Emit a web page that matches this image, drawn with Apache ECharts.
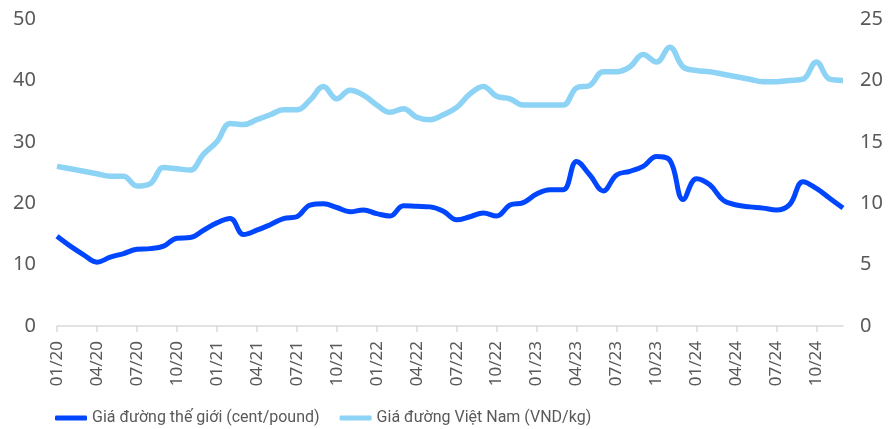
<!DOCTYPE html>
<html>
<head>
<meta charset="utf-8">
<script src="https://cdn.jsdelivr.net/npm/echarts@6/dist/echarts.min.js"></script>
<style>
  html, body { margin: 0; padding: 0; background: #fff; }
  #chart { width: 891px; height: 429px; }
</style>
</head>
<body>
<div id="chart"></div>
<script>
// tháng 01/20 -> 12/24
var months = []
for (var y = 20; y <= 24; y++) {
  for (var m = 1; m <= 12; m++) {
    months.push((m < 10 ? '0' + m : '' + m) + '/' + y)
  }
}

// giá đường thế giới (cent/pound) - trục trái
var worldPrice = [
  14.6, 13.0, 11.6, 10.4, 11.2, 11.8, 12.5, 12.6, 13.0, 14.3, 14.4, 15.6,
  16.8, 17.5, 14.9, 15.6, 16.5, 17.5, 17.8, 19.7, 19.9, 19.3, 18.6, 18.9,
  18.3, 17.9, 19.6, 19.5, 19.4, 18.7, 17.3, 17.8, 18.4, 17.9, 19.7, 20.1,
  21.5, 22.2, 22.2, 26.8, 24.6, 22.0, 24.6, 25.2, 26.0, 27.6, 27.0, 20.6,
  24.0, 23.0, 20.5, 19.7, 19.4, 19.2, 18.9, 19.8, 23.5, 22.4, 20.8, 19.2
]

// giá đường Việt Nam (nghìn VND/kg) - trục phải
var vnPrice = [
  13.0, 12.8, 12.6, 12.4, 12.2, 12.2, 11.4, 11.6, 12.9, 12.8, 12.7, 14.0,
  15.0, 16.5, 16.4, 16.8, 17.2, 17.6, 17.6, 18.4, 19.5, 18.5, 19.2, 18.8,
  18.0, 17.4, 17.7, 17.0, 16.8, 17.2, 17.8, 18.9, 19.5, 18.7, 18.5, 18.0,
  18.0, 18.0, 18.0, 19.4, 19.6, 20.7, 20.7, 21.1, 22.1, 21.5, 22.7, 21.1,
  20.8, 20.7, 20.5, 20.3, 20.1, 19.9, 19.9, 20.0, 20.1, 21.5, 20.1, 20.0
]

var leftTicks = [0, 10, 20, 30, 40, 50]
var rightTicks = [0, 5, 10, 15, 20, 25]

var font = 'Noto Sans'
var gray = '#595959'

var chart = echarts.init(document.getElementById('chart'))
var option = {
  animation: false,
  grid: { left: 57, right: 48, top: 19, bottom: 103 },
  legend: {
    bottom: -2,
    left: 50,
    itemGap: 20,
    itemWidth: 32,
    itemHeight: 5,
    icon: 'roundRect',
    textStyle: { color: gray, fontSize: 16, fontFamily: 'Roboto' },
    data: ['Giá đường thế giới (cent/pound)', 'Giá đường Việt Nam (VND/kg)']
  },
  xAxis: {
    type: 'category',
    boundaryGap: false,
    data: months,
    axisLine: { lineStyle: { color: '#d9d9d9', width: 1.5 } },
    axisTick: { interval: 2, length: 6, lineStyle: { color: '#d9d9d9', width: 1.5 } },
    axisLabel: {
      interval: 2,
      rotate: 90,
      margin: 15,
      color: gray,
      fontSize: 17,
      fontFamily: font
    },
    splitLine: { show: false }
  },
  yAxis: [
    {
      type: 'value',
      min: leftTicks[0],
      max: leftTicks[leftTicks.length - 1],
      interval: 10,
      axisLine: { show: false },
      axisTick: { show: false },
      splitLine: { show: false },
      axisLabel: { color: gray, fontSize: 20, fontFamily: font, margin: 21 }
    },
    {
      type: 'value',
      min: rightTicks[0],
      max: rightTicks[rightTicks.length - 1],
      interval: 5,
      axisLine: { show: false },
      axisTick: { show: false },
      splitLine: { show: false },
      axisLabel: { color: gray, fontSize: 20, fontFamily: font, margin: 17 }
    }
  ],
  series: [
    {
      name: 'Giá đường thế giới (cent/pound)',
      type: 'line',
      yAxisIndex: 0,
      data: worldPrice,
      smooth: 0.4,
      showSymbol: false,
      z: 3,
      itemStyle: { color: '#0046ff' },
      lineStyle: { color: '#0046ff', width: 5 }
    },
    {
      name: 'Giá đường Việt Nam (VND/kg)',
      type: 'line',
      yAxisIndex: 1,
      data: vnPrice,
      smooth: 0.4,
      showSymbol: false,
      z: 2,
      itemStyle: { color: '#8dd3f5' },
      lineStyle: { color: '#8dd3f5', width: 5.5 }
    }
  ]
}
chart.setOption(option)
</script>
</body>
</html>
